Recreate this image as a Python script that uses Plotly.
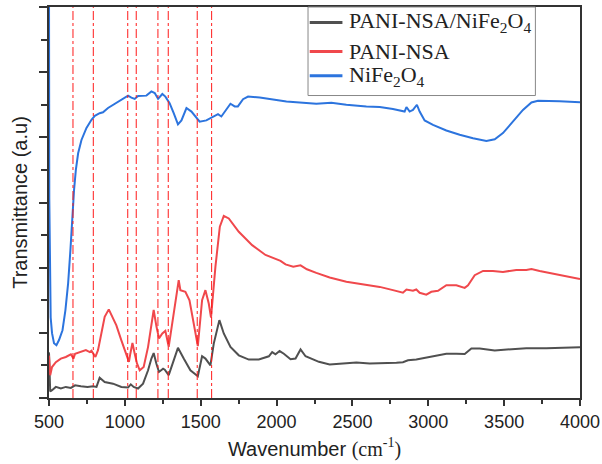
import plotly.graph_objects as go

# ---- data ----
wn_nife = [500, 502, 511, 520, 533, 549, 566, 589, 608, 626, 641, 655, 665, 677, 692, 714, 747, 780, 802, 834,
           856, 889, 944, 1010, 1021, 1043, 1065, 1087, 1142, 1175, 1197, 1219, 1247, 1267, 1295, 1322, 1350,
           1373, 1406, 1439, 1472, 1493, 1537, 1581, 1614, 1636, 1669, 1696, 1724, 1745, 1779, 1812, 1889, 1976,
           2065, 2152, 2262, 2361, 2460, 2592, 2680, 2767, 2844, 2856, 2877, 2899, 2925, 2943, 2976, 3031, 3119,
           3207, 3295, 3383, 3438, 3492, 3558, 3624, 3680, 3723, 3866, 4000]
t_nife = [12.5, 6.1, 2.47, 1.99, 1.68, 1.62, 1.78, 2.08, 2.69, 3.52, 4.53, 5.67, 6.38, 7.0, 7.51, 7.92, 8.29, 8.54,
          8.66, 8.74, 8.77, 8.9, 9.05, 9.25, 9.28, 9.22, 9.18, 9.27, 9.28, 9.41, 9.36, 9.18, 9.33, 9.25, 9.05, 8.74,
          8.4, 8.52, 8.9, 8.79, 8.59, 8.48, 8.52, 8.62, 8.71, 8.64, 8.87, 9.03, 8.95, 8.95, 9.17, 9.25, 9.22, 9.15,
          9.1, 9.07, 9.03, 9.06, 9.0, 8.95, 8.93, 8.87, 8.79, 8.93, 8.79, 8.84, 9.0, 8.79, 8.52, 8.38, 8.21, 8.08,
          7.97, 7.89, 7.94, 8.13, 8.48, 8.84, 9.07, 9.12, 9.11, 9.08]

wn_pani = [500, 502, 508, 520, 545, 578, 611, 644, 661, 672, 710, 743, 769, 780, 806, 823, 845, 867, 894, 922,
           944, 977, 1010, 1027, 1036, 1050, 1065, 1080, 1098, 1124, 1153, 1175, 1190, 1208, 1225, 1247, 1267,
           1289, 1322, 1355, 1366, 1399, 1426, 1454, 1481, 1509, 1531, 1553, 1568, 1597, 1626, 1652, 1685, 1751,
           1839, 1927, 1982, 2026, 2059, 2110, 2158, 2200, 2262, 2350, 2460, 2592, 2680, 2767, 2833, 2856, 2899,
           2921, 2943, 2987, 3020, 3064, 3119, 3185, 3240, 3262, 3306, 3361, 3426, 3492, 3580, 3646, 3680, 3734,
           3822, 3910, 4000]
t_pani = [1.3, 1.0, 0.7, 0.95, 1.1, 1.21, 1.26, 1.34, 1.21, 1.36, 1.41, 1.47, 1.41, 1.45, 1.26, 1.47, 1.98, 2.49,
          2.72, 2.44, 2.23, 1.77, 1.36, 1.11, 1.36, 1.69, 1.36, 1.06, 0.85, 0.95, 1.57, 2.18, 2.7, 2.2, 1.83, 1.98,
          2.06, 1.57, 2.59, 3.62, 3.31, 3.26, 3.0, 2.29, 1.59, 3.0, 3.31, 2.9, 2.47, 4.03, 5.26, 5.59, 5.51, 5.1,
          4.69, 4.39, 4.29, 4.21, 4.1, 4.03, 4.07, 3.95, 3.84, 3.7, 3.57, 3.46, 3.41, 3.31, 3.23, 3.33, 3.29, 3.33,
          3.23, 3.17, 3.26, 3.29, 3.46, 3.46, 3.38, 3.46, 3.77, 3.9, 3.9, 3.87, 3.93, 3.93, 3.96, 3.9, 3.82, 3.74,
          3.65]

wn_comp = [500, 502, 508, 520, 545, 578, 611, 644, 672, 710, 754, 790, 813, 834, 867, 922, 977, 1021, 1039, 1058,
           1087, 1120, 1153, 1175, 1190, 1208, 1225, 1252, 1263, 1289, 1322, 1350, 1388, 1432, 1481, 1509, 1531,
           1564, 1586, 1623, 1652, 1696, 1751, 1817, 1883, 1949, 1971, 1993, 2020, 2048, 2092, 2125, 2158, 2191,
           2279, 2350, 2438, 2526, 2614, 2680, 2790, 2833, 2866, 2921, 2987, 3053, 3119, 3185, 3240, 3284, 3339,
           3438, 3558, 3646, 3778, 3910, 4000]
t_comp = [1.4, 0.9, 0.2, 0.24, 0.34, 0.29, 0.34, 0.31, 0.39, 0.36, 0.34, 0.36, 0.34, 0.62, 0.49, 0.44, 0.34, 0.32,
          0.42, 0.34, 0.29, 0.44, 0.85, 1.21, 1.38, 1.05, 0.8, 0.9, 0.87, 0.7, 1.16, 1.54, 1.21, 0.85, 0.67, 1.28,
          1.21, 1.0, 1.67, 2.39, 1.98, 1.57, 1.31, 1.18, 1.18, 1.28, 1.41, 1.34, 1.44, 1.36, 1.19, 1.21, 1.49, 1.28,
          1.11, 1.03, 1.06, 1.09, 1.06, 1.06, 1.08, 1.1, 1.16, 1.18, 1.24, 1.31, 1.36, 1.36, 1.35, 1.52, 1.52, 1.46,
          1.5, 1.53, 1.53, 1.54, 1.56]

marker_wn = [658, 792, 1019, 1075, 1218, 1286, 1477, 1572]

x_ticks = [500, 1000, 1500, 2000, 2500, 3000, 3500, 4000]

series_names = ["PANI-NSA/NiFe<sub>2</sub>O<sub>4</sub>", "PANI-NSA", "NiFe<sub>2</sub>O<sub>4</sub>"]
series_x = [wn_comp, wn_pani, wn_nife]
series_y = [t_comp, t_pani, t_nife]
series_colors = ["#505050", "#f0484c", "#2c74de"]

fig = go.Figure()
for name, xs, ys, col in zip(series_names, series_x, series_y, series_colors):
    fig.add_trace(go.Scatter(x=xs, y=ys, mode="lines", name=name, showlegend=False,
                             line=dict(color=col, width=2)))

for w in marker_wn:
    fig.add_shape(type="line", xref="x", yref="paper", x0=w, x1=w, y0=0, y1=1,
                  line=dict(color="#ff1a1a", width=1, dash="dashdot"))

# ---- legend box (drawn as shapes + text) ----
leg_x0, leg_x1, leg_y0, leg_y1 = 0.4878, 0.916, 0.7736, 1.0
fig.add_shape(type="rect", xref="paper", yref="paper", x0=leg_x0, x1=leg_x1, y0=leg_y0, y1=leg_y1,
              line=dict(color="#888", width=1), fillcolor="white")
row_y = [0.9606, 0.8863, 0.824]
for name, col, ry in zip(series_names, series_colors, row_y):
    fig.add_shape(type="line", xref="paper", yref="paper", x0=0.491, x1=0.5526, y0=ry, y1=ry,
                  line=dict(color=col, width=3))
    fig.add_annotation(x=0.5612, y=ry, xref="paper", yref="paper", xanchor="left", yanchor="middle",
                       text=name, showarrow=False,
                       font=dict(family="Liberation Serif, Times New Roman", size=22, color="#222"))

fig.update_layout(
    width=602, height=464,
    margin=dict(l=49, r=22, t=7, b=66),
    paper_bgcolor="white", plot_bgcolor="white",
    font=dict(family="Liberation Sans, Arial", color="#222"),
    showlegend=False,
    xaxis=dict(range=[500, 4000], tickvals=x_ticks, ticks="outside", ticklen=6, tickwidth=1.5,
               tickcolor="#333", showline=True, linecolor="#333", linewidth=2, mirror=True,
               showgrid=False, zeroline=False, tickfont=dict(size=18), automargin=False,
               minor=dict(dtick=250, ticks="outside", ticklen=4, tickcolor="#333", tickwidth=1.5),
               title=dict(text='Wavenumber <span style="font-family:Liberation Serif">(cm<sup>-1</sup>)</span>',
                          font=dict(size=20), standoff=11)),
    yaxis=dict(range=[0, 12], dtick=2, showticklabels=False, ticks="outside", ticklen=8, tickwidth=1.5,
               tickcolor="#333", showline=True, linecolor="#333", linewidth=2, mirror=True,
               showgrid=False, zeroline=False, automargin=False,
               minor=dict(dtick=1, ticks="outside", ticklen=6, tickcolor="#333", tickwidth=1.5),
               title=dict(text="Transmittance (a.u)", font=dict(size=20), standoff=6)),
)

fig.write_html("out.html")
